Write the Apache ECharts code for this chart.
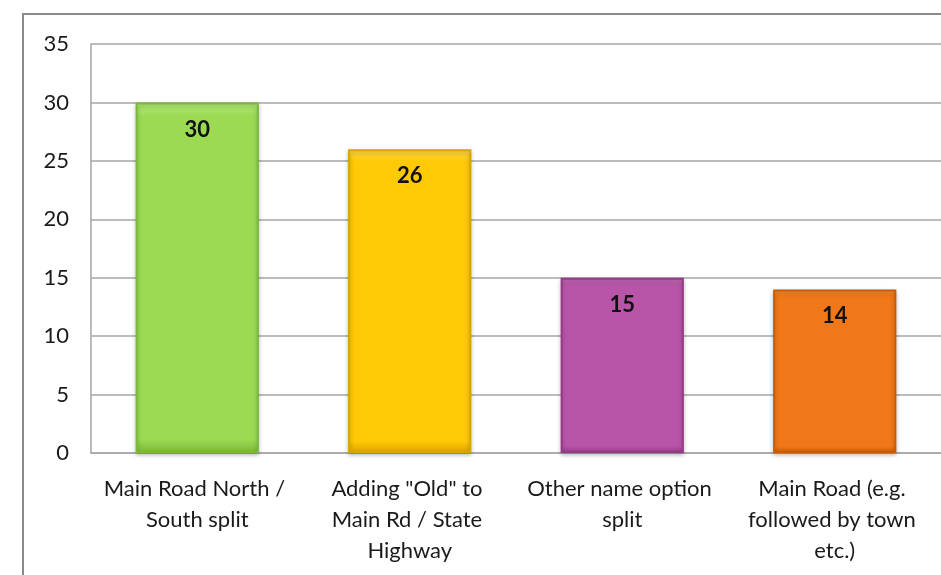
<!DOCTYPE html>
<html>
<head>
<meta charset="utf-8">
<script src="https://cdn.jsdelivr.net/npm/echarts@6/dist/echarts.min.js"></script>
<style>
  html, body { margin: 0; padding: 0; background: #fff; }
  #chart { width: 941px; height: 575px; }
</style>
</head>
<body>
<div id="chart"></div>
<script>
// categories and values
const categories = [
  'Main Road North / South split',
  'Adding "Old" to Main Rd / State Highway',
  'Other name option split',
  'Main Road (e.g. followed by town etc.)'
];
const values = [30, 26, 15, 14];
// bar fills: [top light, body, edge]
const barColors = [
  ['#b4ea78', '#9cda54', '#7cb83a'],
  ['#ffd84a', '#ffc905', '#dba400'],
  ['#c872b9', '#b955a8', '#97398a'],
  ['#f79442', '#f07818', '#c85c08']
];

const myChart = echarts.init(document.getElementById('chart'));

const font = 'Lato, "Open Sans", sans-serif';

const option = {
  animation: false,
  graphic: [{
    type: 'rect',
    shape: { x: 23, y: 14, width: 1000, height: 1000 },
    style: { fill: 'none', stroke: '#8a8a8a', lineWidth: 2 },
    silent: true
  }],
  grid: { left: 91, right: 0, top: 44, bottom: 122 },
  xAxis: {
    type: 'category',
    data: categories,
    axisLine: { show: true, lineStyle: { color: '#a6a6a6', width: 1.5 } },
    axisTick: { show: false },
    axisLabel: {
      interval: 0,
      color: '#1a1a1a',
      fontFamily: font,
      fontSize: 22,
      lineHeight: 31,
      margin: 20,
      width: 205,
      overflow: 'break'
    }
  },
  yAxis: {
    type: 'value',
    min: 0,
    max: 35,
    interval: 5,
    axisLine: { show: true, lineStyle: { color: '#a6a6a6', width: 1.5 } },
    axisTick: { show: false },
    splitLine: { lineStyle: { color: '#a6a6a6', width: 1.5 } },
    axisLabel: {
      color: '#1a1a1a',
      fontFamily: font,
      fontSize: 22,
      margin: 22
    }
  },
  series: [{
    type: 'bar',
    barWidth: '58%',
    data: values.map(function (v, i) {
      const c = barColors[i];
      return {
        value: v,
        itemStyle: {
          color: new echarts.graphic.LinearGradient(0, 0, 0, 1, [
            { offset: 0, color: c[0] },
            { offset: 0.04, color: c[1] },
            { offset: 0.96, color: c[1] },
            { offset: 1, color: c[2] }
          ]),
          borderColor: c[2],
          borderWidth: 2,
          shadowColor: 'rgba(0,0,0,0.25)',
          shadowBlur: 4,
          shadowOffsetY: 2
        }
      };
    }),
    label: {
      show: true,
      position: 'insideTop',
      distance: 16,
      color: '#111',
      fontFamily: font,
      fontWeight: 'bold',
      fontSize: 22
    }
  }]
};

myChart.setOption(option);
window.addEventListener('resize', function () {
  myChart.resize();
});
</script>
</body>
</html>
